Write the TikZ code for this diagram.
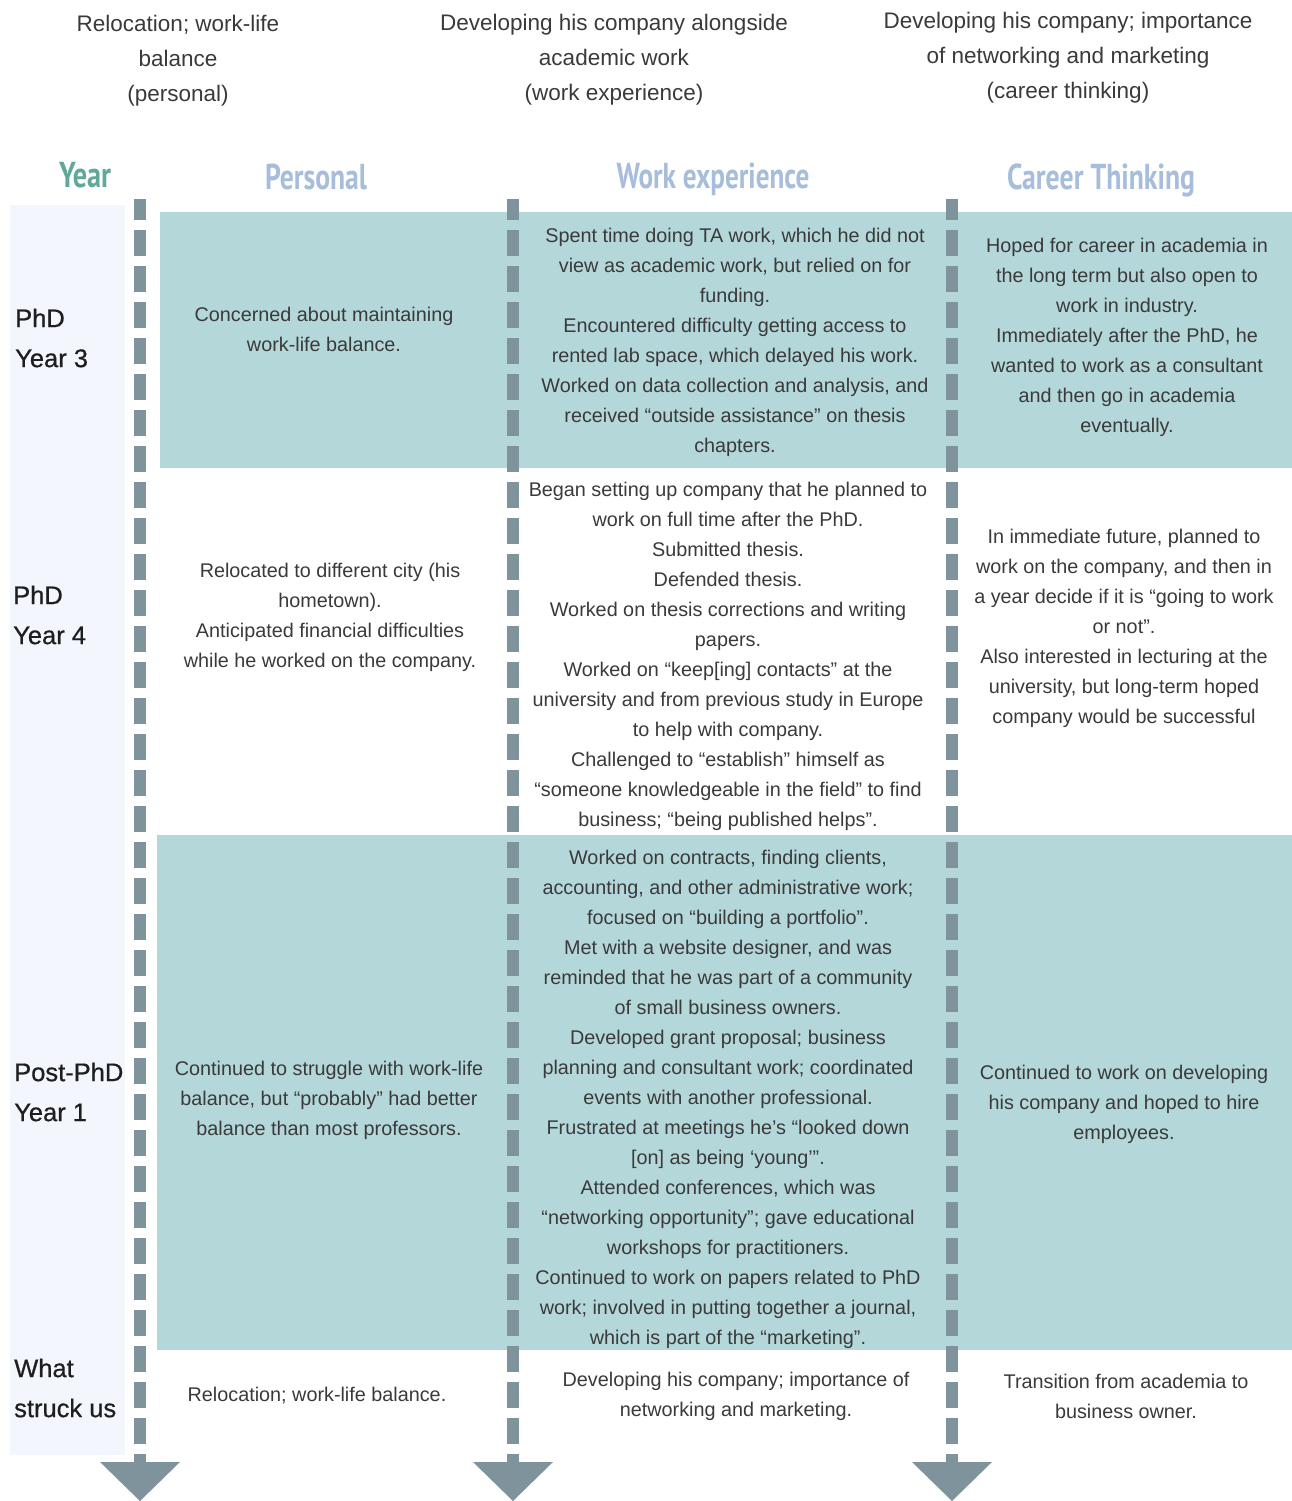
\documentclass[tikz,border=0pt]{standalone}
\usepackage{fontspec}
\usepackage{graphicx}
\setmainfont{Liberation Sans}
\newfontfamily\headfont{PT Sans}
\definecolor{bandteal}{HTML}{B4D7DA}
\definecolor{yearbg}{HTML}{F3F6FD}
\definecolor{lgray}{HTML}{7F939D}
\definecolor{txt}{HTML}{3A3A3A}
\definecolor{ytxt}{HTML}{1E1E1E}
\definecolor{hblue}{HTML}{A6BDDB}
\definecolor{hteal}{HTML}{5FA89A}
\begin{document}
\begin{tikzpicture}[x=1pt,y=-1pt,
  bodytext/.style={align=center, text=txt, inner sep=0pt, font=\fontsize{19.8}{30}\selectfont},
  captext/.style={align=center, text=txt, inner sep=0pt, font=\fontsize{22.5}{35}\selectfont},
  yearlab/.style={anchor=west, align=left, text=ytxt, inner sep=0pt, font=\fontsize{25.5}{40}\selectfont\addfontfeature{FakeBold=0.6}},
  hdr/.style={inner sep=0pt, text=hblue, font=\headfont\bfseries\fontsize{36}{40}\selectfont},
  bandfill/.style={fill=bandteal},
  tline/.style={draw=lgray, line width=12pt, dash pattern=on 26pt off 10pt, dash phase=5pt},
  headtri/.style={fill=lgray}
]
\useasboundingbox (0,0) rectangle (1292,1501);
\fill[white] (0,0) rectangle (1292,1501);

% backgrounds
\fill[yearbg] (10,205) rectangle (125,1455);
\fill[bandfill] (160,212) rectangle (1292,468);
\fill[bandfill] (157,835) rectangle (1292,1350);

% timelines
\foreach \n/\x in {1/140, 2/513, 3/952}{
  \coordinate (top\n) at (\x,199);
  \coordinate (bot\n) at (\x,1462);
  \draw[tline] (top\n) -- (bot\n);
  \fill[headtri] ([xshift=-40pt]bot\n) -- ([xshift=40pt]bot\n) -- (\x,1501) -- cycle;
}

% top captions
\node[captext] (c1) at (178,61) {Relocation; work-life\\balance\\(personal)};
\node[captext] (c2) at (614,60) {Developing his company alongside\\academic work\\(work experience)};
\node[captext] (c3) at (1068,58) {Developing his company; importance\\of networking and marketing\\(career thinking)};

% column headers
\node[hdr, text=hteal] (hy) at (85,175) {\resizebox{52pt}{\height}{Year}};
\node[hdr] (hp) at (316,177) {\resizebox{102pt}{\height}{Personal}};
\node[hdr] (hw) at (713,179) {\resizebox{193pt}{\height}{Work experience}};
\node[hdr] (hc) at (1101,180) {\resizebox{188pt}{\height}{Career Thinking}};

% year labels
\node[yearlab] (y1) at (15,338) {PhD\\Year 3};
\node[yearlab] (y2) at (13,615) {PhD\\Year 4};
\node[yearlab] (y3) at (14,1092) {Post-PhD\\Year 1};
\node[yearlab] (y4) at (14,1388) {What\\struck us};

% row 1
\node[bodytext] (p1) at (324,329.5) {Concerned about maintaining\\work-life balance.};
\node[bodytext] (w1) at (735,342.5) {Spent time doing TA work, which he did not\\view as academic work, but relied on for\\funding.\\Encountered difficulty getting access to\\rented lab space, which delayed his work.\\Worked on data collection and analysis, and\\received “outside assistance” on thesis\\chapters.};
\node[bodytext] (k1) at (1127,337.5) {Hoped for career in academia in\\the long term but also open to\\work in industry.\\Immediately after the PhD, he\\wanted to work as a consultant\\and then go in academia\\eventually.};

% row 2
\node[bodytext] (p2) at (330,617.5) {Relocated to different city (his\\hometown).\\Anticipated financial difficulties\\while he worked on the company.};
\node[bodytext] (w2) at (728,656) {Began setting up company that he planned to\\work on full time after the PhD.\\Submitted thesis.\\Defended thesis.\\Worked on thesis corrections and writing\\papers.\\Worked on “keep[ing] contacts” at the\\university and from previous study in Europe\\to help with company.\\Challenged to “establish” himself as\\“someone knowledgeable in the field” to find\\business; “being published helps”.};
\node[bodytext] (k2) at (1124,628.5) {In immediate future, planned to\\work on the company, and then in\\a year decide if it is “going to work\\or not”.\\Also interested in lecturing at the\\university, but long-term hoped\\company would be successful};

% row 3
\node[bodytext] (p3) at (329,1100.5) {Continued to struggle with work-life\\balance, but “probably” had better\\balance than most professors.};
\node[bodytext] (w3) at (728,1099) {Worked on contracts, finding clients,\\accounting, and other administrative work;\\focused on “building a portfolio”.\\Met with a website designer, and was\\reminded that he was part of a community\\of small business owners.\\Developed grant proposal; business\\planning and consultant work; coordinated\\events with another professional.\\Frustrated at meetings he’s “looked down\\{[on]} as being ‘young’”.\\Attended conferences, which was\\“networking opportunity”; gave educational\\workshops for practitioners.\\Continued to work on papers related to PhD\\work; involved in putting together a journal,\\which is part of the “marketing”.};
\node[bodytext] (k3) at (1124,1104.5) {Continued to work on developing\\his company and hoped to hire\\employees.};

% row 4
\node[bodytext] (p4) at (317,1395.5) {Relocation; work-life balance.};
\node[bodytext] (w4) at (736,1396.5) {Developing his company; importance of\\networking and marketing.};
\node[bodytext] (k4) at (1126,1396.5) {Transition from academia to\\business owner.};
\end{tikzpicture}
\end{document}
